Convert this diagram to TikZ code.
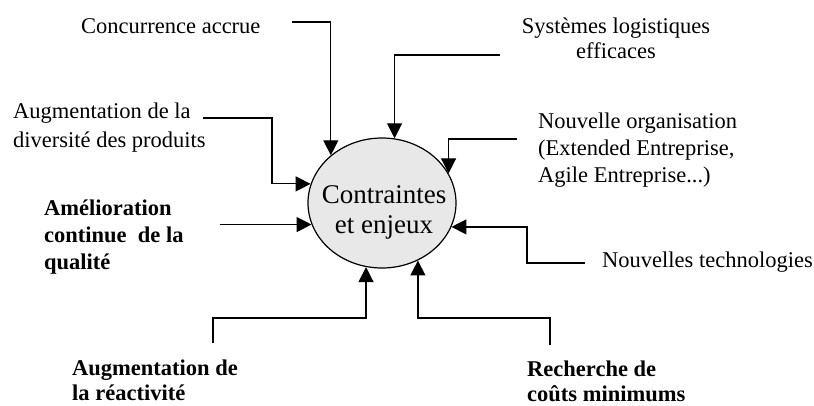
\documentclass[tikz,border=0pt]{standalone}
\usepackage{fontspec}
\setmainfont{Liberation Serif}
\usetikzlibrary{arrows.meta,shapes.geometric}
\definecolor{ellfill}{RGB}{232,232,232}
\begin{document}
\begin{tikzpicture}[x=1pt,y=-1pt,
  lbl/.style={inner sep=0pt, anchor=base west, align=left},
  conn/.style={line width=1.2pt, -{Triangle[length=15pt,width=15pt]}}]
\useasboundingbox (0,0) rectangle (814,405);
% central ellipse
\node[ellipse, draw, fill=ellfill, line width=1.2pt, minimum width=148pt, minimum height=130pt, inner sep=0pt] (e) at (382,203) {};
\node[inner sep=0pt, anchor=base, align=center, font=\fontsize{27}{30}\selectfont] (et) at (384,233) {Contraintes\\et enjeux};
% labels (base anchor = baseline of last line)
\node[lbl, font=\fontsize{22.5}{27}\selectfont] (t1) at (81,33) {Concurrence accrue};
\node[inner sep=0pt, anchor=base, align=center, font=\fontsize{22.5}{25}\selectfont] (t2) at (616,58) {Systèmes logistiques\\efficaces};
\node[lbl, font=\fontsize{22.5}{29}\selectfont] (t3) at (13,147) {Augmentation de la\\diversité des produits};
\node[lbl, font=\fontsize{22.5}{27}\selectfont\bfseries] (t4) at (44,269) {Amélioration\\continue~ de la\\qualité};
\node[lbl, font=\fontsize{22.5}{27}\selectfont] (t5) at (538,182) {Nouvelle organisation\\(Extended Entreprise,\\Agile Entreprise...)};
\node[lbl, font=\fontsize{22.5}{27}\selectfont] (t6) at (602,267) {Nouvelles technologies};
\node[lbl, font=\fontsize{22.5}{25}\selectfont\bfseries] (t7) at (72,400) {Augmentation de\\la réactivité};
\node[lbl, font=\fontsize{22.5}{25}\selectfont\bfseries] (t8) at (527,401) {Recherche de\\coûts minimums};
% connector starts
\coordinate (s1) at (292,22);
\coordinate (s2) at (500,55);
\coordinate (s3) at (517,139);
\coordinate (s4) at (585,263);
\coordinate (k4) at (527,263);
\coordinate (s5) at (203,118);
\coordinate (k5) at (272,118);
\coordinate (s6) at (220,0);
\coordinate (s7) at (213,343);
\coordinate (k7) at (213,318);
\coordinate (s8) at (550,345);
\coordinate (k8) at (550,318);
% connectors
\draw[conn] (s1) -| (e.137.3);
\draw[conn] (s2) -| (e.79.4);
\draw[conn] (s3) -| (e.24);
\draw[conn] (s4) -- (k4) |- (e.341.6);
\draw[conn] (s5) -- (k5) |- (e.165.8);
\draw[conn] (s6 |- e.197.5) -- (e.197.5);
\draw[conn] (s7) -- (k7) -| (e.256.8);
\draw[conn] (s8) -- (k8) -| (e.302.4);
\end{tikzpicture}
\end{document}
